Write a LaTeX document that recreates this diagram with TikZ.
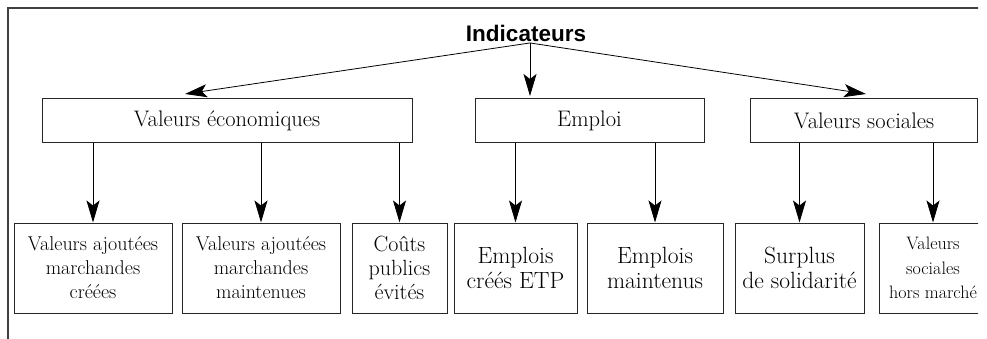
\documentclass[tikz,border=0pt]{standalone}
\usepackage{fontspec}
\setsansfont{Liberation Sans}
\usetikzlibrary{arrows.meta}
\tikzset{
    boite/.style={draw=black!85,line width=1pt,align=center,inner sep=0pt},
    fleche/.style={-{Stealth[length=22pt,width=13pt,inset=5pt]},line width=0.8pt},
}
\begin{document}
\begin{tikzpicture}[x=1pt,y=-1pt]
    \useasboundingbox (0,0) rectangle (987,339);
    \clip (0,0) rectangle (978,339);
    \draw[line width=1.6pt,black!75]
        (8,339) -- (8,8) -- (987,8)
    ;

    \node[font=\sffamily\bfseries\fontsize{22.5}{27}\selectfont,inner sep=1.5pt] (ind) at (526,33) {Indicateurs};

    \begin{scope}[every node/.style={boite,minimum height=44,font=\rmfamily\fontsize{22.5}{26}\selectfont}]
        \node[minimum width=370] (eco) at (227,121)   {Valeurs économiques};
        \node[minimum width=229] (emp) at (589.5,121) {Emploi};
        \node[minimum width=227] (soc) at (864,121)   {Valeurs sociales};
    \end{scope}

    \begin{scope}[every node/.style={boite,minimum height=90}]
        \begin{scope}[font=\rmfamily\fontsize{20}{24}\selectfont]
            \node[minimum width=158] (vac) at (93,268)  {Valeurs ajoutées\\marchandes\\créées};
            \node[minimum width=158] (vam) at (261,268) {Valeurs ajoutées\\marchandes\\maintenues};
        \end{scope}
        \node[minimum width=95,font=\rmfamily\fontsize{22}{24}\selectfont] (cpe) at (399.5,268) {Coûts\\publics\\évités};
        \begin{scope}[font=\rmfamily\fontsize{23.5}{25}\selectfont]
            \node[minimum width=123] (ecr) at (515.5,268) {Emplois\\créés ETP};
            \node[minimum width=136] (ema) at (655,268)   {Emplois\\maintenus};
            \node[minimum width=129] (sur) at (799.5,268) {Surplus\\de solidarité};
        \end{scope}
        \node[minimum width=108,font=\rmfamily\fontsize{18}{24.5}\selectfont] (vhm) at (933,268) {Valeurs\\sociales\\hors marché};
    \end{scope}

    \coordinate (ecotip) at (185,94);
    \coordinate (emptip) at (530,96);
    \coordinate (soctip) at (866,94);
    \foreach \t in {ecotip,emptip,soctip}
        \draw[fleche] ([xshift=4pt]ind.south) -- (\t);

    \foreach \b/\h in {vac/eco,vam/eco,cpe/eco,ecr/emp,ema/emp,sur/soc,vhm/soc}
        \draw[fleche] (\b.north |- \h.south) -- (\b.north);
\end{tikzpicture}
\end{document}
